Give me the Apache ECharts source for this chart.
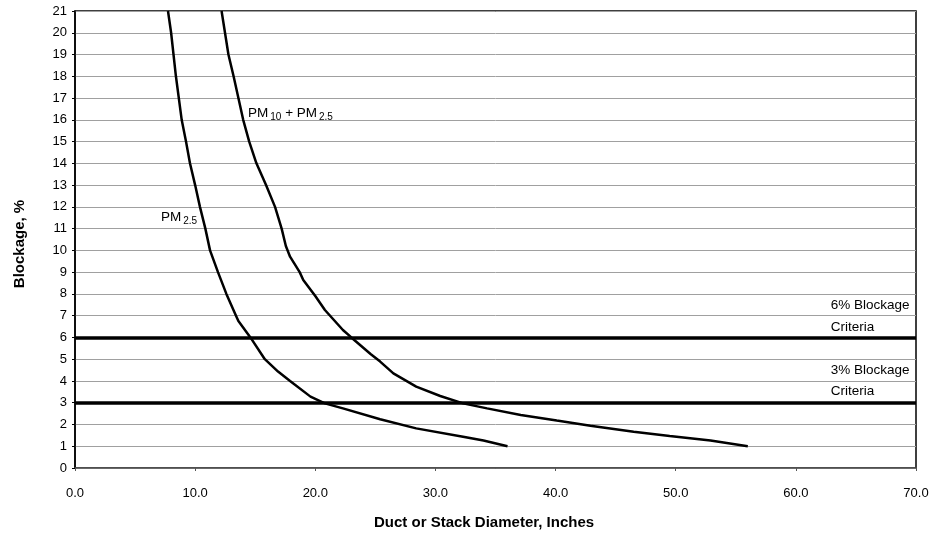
<!DOCTYPE html>
<html>
<head>
<meta charset="utf-8">
<script src="https://cdn.jsdelivr.net/npm/echarts@6/dist/echarts.min.js"></script>
<style>html,body{margin:0;padding:0;background:#fff;}#c{width:936px;height:534px;}</style>
</head>
<body>
<div id="c"></div>
<script>
// Data
const pm25 = [
  [7.74, 21], [8.0, 20], [8.4, 18], [8.88, 16], [9.24, 15], [9.57, 14], [10.0, 13],
  [10.4, 12], [10.85, 11], [11.24, 10], [11.9, 9], [12.6, 8], [13.4, 7], [13.6, 6.75],
  [14.6, 6], [15.8, 5], [16.9, 4.43], [17.9, 4], [19.6, 3.28], [20.8, 2.97],
  [22.3, 2.74], [25.4, 2.24], [28.4, 1.82], [32.3, 1.44], [34.0, 1.26], [36.0, 1.0]
];
const pm10pm25 = [
  [12.2, 21], [12.77, 19], [13.2, 18], [13.6, 17], [14.0, 16], [14.5, 15], [15.1, 14],
  [15.9, 13], [16.65, 12], [17.2, 11], [17.55, 10.2], [17.9, 9.71], [18.7, 9], [19.0, 8.64],
  [20.0, 7.9], [20.8, 7.26], [22.3, 6.34], [23.0, 6.0], [24.6, 5.24], [25.4, 4.89],
  [26.5, 4.35], [28.4, 3.74], [30.4, 3.31], [32.3, 2.97], [34.3, 2.74], [37.1, 2.44],
  [40.1, 2.18], [42.9, 1.94], [46.5, 1.67], [49.5, 1.47], [52.9, 1.26], [56.0, 1.0]
];
const criteria = [6, 3];
const notes = [
  { coord: [14.4, 16.3], text: 'PM{s|10} + PM{s|2.5}' },
  { coord: [7.16, 11.5], text: 'PM{s|2.5}' },
  { coord: [62.9, 7.49], text: '6% Blockage' },
  { coord: [62.9, 6.48], text: 'Criteria' },
  { coord: [62.9, 4.5], text: '3% Blockage' },
  { coord: [62.9, 3.54], text: 'Criteria' }
];
const xTitle = 'Duct or Stack Diameter, Inches';
const yTitle = 'Blockage, %';

const chart = echarts.init(document.getElementById('c'), null, { renderer: 'canvas' });
const font = 'Liberation Sans, Arial, sans-serif';
chart.setOption({
  animation: false,
  backgroundColor: '#fff',
  grid: { left: 75, right: 20, top: 11, bottom: 66, show: true, borderColor: '#000', borderWidth: 1.5, backgroundColor: 'transparent' },
  title: {
    text: xTitle, left: 369, top: 510,
    textStyle: { fontFamily: font, fontWeight: 'bold', fontSize: 15, color: '#000' }
  },
  xAxis: {
    type: 'value', min: 0, max: 70, interval: 10,
    axisLine: { lineStyle: { color: '#555', width: 1.5 } },
    axisTick: { show: true, length: 3, lineStyle: { color: '#555' } },
    splitLine: { show: false },
    axisLabel: { formatter: v => v.toFixed(1), margin: 19, fontSize: 13, color: '#000', fontFamily: font }
  },
  yAxis: {
    type: 'value', min: 0, max: 21, interval: 1,
    name: yTitle, nameLocation: 'middle', nameGap: 48, nameRotate: 90,
    nameTextStyle: { fontFamily: font, fontWeight: 'bold', fontSize: 15, color: '#000', padding: [0, 9, 0, 0] },
    axisLine: { show: true, lineStyle: { color: '#000', width: 1.5 } },
    axisTick: { show: true, length: 3, lineStyle: { color: '#000' } },
    splitLine: { show: true, lineStyle: { color: '#a0a0a0', width: 1 } },
    axisLabel: { margin: 8, fontSize: 13, color: '#000', fontFamily: font }
  },
  series: [
    {
      type: 'line', data: pm25, symbol: 'none', lineStyle: { color: '#000', width: 2.5 }, smooth: false, z: 5,
      markLine: {
        silent: true, symbol: 'none', label: { show: false },
        lineStyle: { color: '#000', width: 3.5, type: 'solid' },
        data: criteria.map(v => ({ yAxis: v }))
      },
      markPoint: {
        symbol: 'circle', symbolSize: 0,
        label: {
          show: true, position: 'right', distance: 0, color: '#000', fontSize: 13.5, fontFamily: font,
          formatter: p => p.data.text,
          rich: { s: { fontSize: 10, verticalAlign: 'bottom', padding: [7, 0, 0, 2], fontFamily: font, color: '#000' } }
        },
        data: notes.map(n => ({ coord: n.coord, text: n.text }))
      }
    },
    { type: 'line', data: pm10pm25, symbol: 'none', lineStyle: { color: '#000', width: 2.5 }, z: 5 }
  ]
});
</script>
</body>
</html>
